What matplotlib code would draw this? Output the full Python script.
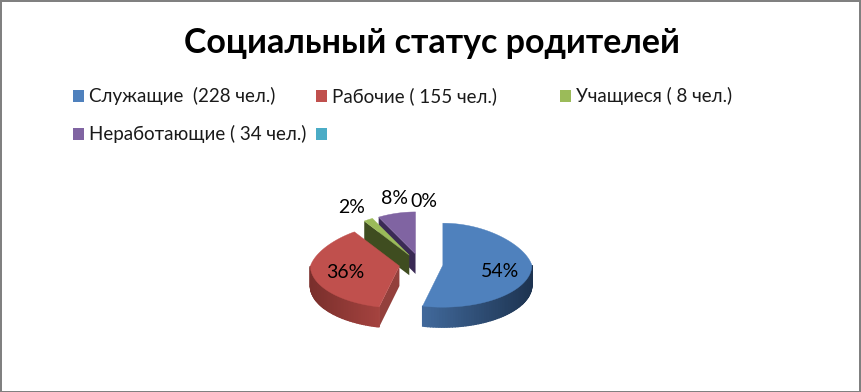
import numpy as np
import matplotlib
matplotlib.use("Agg")
import matplotlib.pyplot as plt
from matplotlib.patches import Rectangle

title = "Социальный статус родителей"
categories = ["Служащие  (228 чел.)", "Рабочие ( 155 чел.)", "Учащиеся ( 8 чел.)",
              "Неработающие ( 34 чел.)", ""]
values = [228, 155, 8, 34, 0]
colors = ["#4f81bd", "#c0504d", "#9bbb59", "#8064a2", "#4bacc6"]
cut_colors = ["#1f3552", "#93403c", "#3f4d20", "#3a2a55", "#256a7c"]
side_left = ["#41699b", "#a5433f", "#6f8a3c", "#5f4a80", "#35879c"]
side_right = ["#1d3350", "#7a2f2c", "#3f4d20", "#3a2a55", "#256a7c"]
label_factor = [0.63, 0.63, 1.29, 1.40, 1.26]
label_dx = [1, 1, -5, 5, 3]
label_dy = [3, 1, -2, 2, 1]

W, H = 861, 392
CX, CY, RX, RY, DEPTH, EXPL, PERSP = 421, 264, 89, 42, 20, 22, 0.16
plt.rcParams['font.family'] = ['Lato', 'Open Sans', 'DejaVu Sans']

fig = plt.figure(figsize=(W / 100, H / 100), dpi=100)
ax = fig.add_axes([0, 0, 1, 1])
ax.set_xlim(0, W)
ax.set_ylim(H, 0)
ax.axis("off")


def pt(ox, oy, deg, r=1.0):
    a = np.radians(deg)
    squeeze = 1 - PERSP * max(np.cos(a), 0)
    return ox + r * RX * squeeze * np.sin(a), oy - r * RY * np.cos(a)


total = sum(values)
edges = np.concatenate([[0], np.cumsum(values)]) / total * 360
slices = []
for i, v in enumerate(values):
    t1, t2 = edges[i], edges[i + 1]
    mid = (t1 + t2) / 2
    a = np.radians(mid)
    ox = CX + EXPL * np.sin(a)
    oy = CY - EXPL * RY / RX * np.cos(a)
    slices.append((i, t1, t2, mid, ox, oy))


def draw_slice(i, t1, t2, ox, oy, z):
    if t2 <= t1:
        return
    for t, visible in ((t1, np.sin(np.radians(t1)) < 0), (t2, np.sin(np.radians(t2)) > 0)):
        if visible:
            x, y = pt(ox, oy, t)
            ax.fill([ox, x, x, ox], [oy, y, y + DEPTH, oy + DEPTH],
                    color=cut_colors[i], lw=0, zorder=z)
    lo, hi = max(t1, 90), min(t2, 270)
    if hi > lo:
        steps = np.linspace(lo, hi, 60)
        xs = [pt(ox, oy, s)[0] for s in steps]
        x0, x1 = min(xs), max(xs)
        cl = np.array(matplotlib.colors.to_rgb(side_left[i]))
        cr = np.array(matplotlib.colors.to_rgb(side_right[i]))
        for a, b in zip(steps[:-1], steps[1:]):
            xa, ya = pt(ox, oy, a)
            xb, yb = pt(ox, oy, b)
            f = ((xa + xb) / 2 - x0) / max(x1 - x0, 1)
            if i == 1:
                f = 1 - f
            ax.fill([xa, xb, xb, xa], [ya, yb, yb + DEPTH, ya + DEPTH],
                    color=cl + (cr - cl) * f, lw=1.0, zorder=z)
    arc = [pt(ox, oy, s) for s in np.linspace(t1, t2, 100)]
    ax.fill([ox] + [p[0] for p in arc], [oy] + [p[1] for p in arc],
            color=colors[i], lw=0.3, zorder=z + 0.5)


for z, idx in enumerate([3, 2, 1, 0]):
    i, t1, t2, mid, ox, oy = slices[idx]
    draw_slice(i, t1, t2, ox, oy, 2 + z)

for (i, t1, t2, mid, ox, oy), f, v, dx, dy in zip(slices, label_factor, values, label_dx, label_dy):
    x, y = pt(ox, oy, mid, f)
    ax.text(x + dx, y + dy, f"{v / total:.0%}", ha="center", va="center",
            fontsize=14, color="black", zorder=10)

ax.text(431.5, 43, title, ha="center", va="center", fontsize=24.5,
        fontweight="bold", color="black")

legend_x = [73, 316, 560, 73, 316]
legend_y = [96, 96, 96, 134, 134]
for lx, ly, c, name in zip(legend_x, legend_y, colors, categories):
    ax.add_patch(Rectangle((lx, ly - 6), 11, 12, color=c, lw=0))
    ax.text(lx + 16, ly, name, ha="left", va="center", fontsize=13.5, color="#1a1a1a")

for r in [(0, 0, W, 2), (0, 0, 2, H), (W - 2, 0, 2, H), (0, H - 1, W, 1)]:
    ax.add_patch(Rectangle(r[:2], r[2], r[3], color="#808080", lw=0, zorder=20))

fig.savefig("out.png", dpi=100, facecolor="white")
